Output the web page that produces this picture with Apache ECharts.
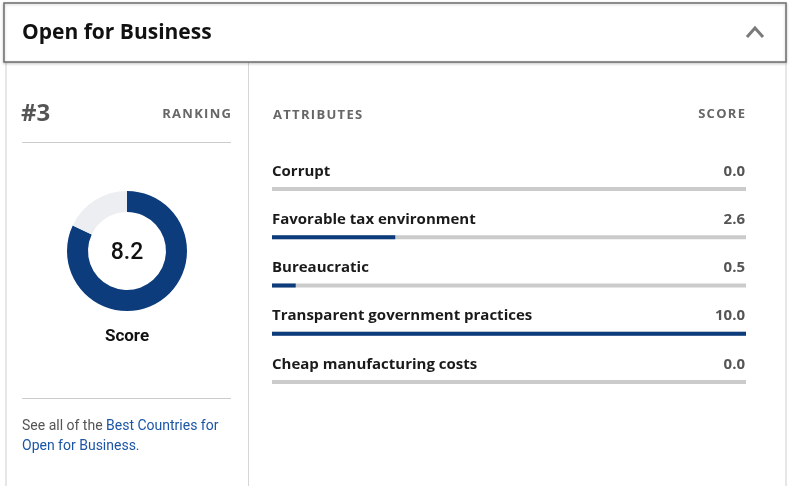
<!DOCTYPE html>
<html><head><meta charset="utf-8">
<script src="https://cdn.jsdelivr.net/npm/echarts@6/dist/echarts.min.js"></script>
<style>html,body{margin:0;padding:0;background:#fff}#c{width:789px;height:486px}</style>
</head><body><div id="c"></div>
<script>
const title = "Open for Business";
const rankLabel = "#3";
const overallScore = 8.2;
const scoreMax = 10;
const attributes = ["Corrupt","Favorable tax environment","Bureaucratic","Transparent government practices","Cheap manufacturing costs"];
const attrScores = [0.0, 2.6, 0.5, 10.0, 0.0];

const NAVY = "#0c3c7c";
const sp = s => s.split("").join("\u200A");
const chart = echarts.init(document.getElementById("c"), null, {renderer:"canvas"});
const headFont = "'Open Sans', 'Lato', sans-serif";
chart.setOption({
  backgroundColor: "#fff",
  animation: false,
  graphic: [
    {type:"rect", shape:{x:6,y:60,width:780,height:440}, style:{fill:"#fff", stroke:"#cfcfcf", lineWidth:1}},
    {type:"line", shape:{x1:248.5,y1:62,x2:248.5,y2:486}, style:{stroke:"#d6d6d6", lineWidth:1}},
    {type:"rect", shape:{x:4,y:3,width:782,height:59}, style:{fill:"#fff", stroke:"#6e6e6e", lineWidth:1.5, shadowBlur:3, shadowColor:"rgba(0,0,0,0.2)", shadowOffsetY:1}},
    {type:"text", x:22, y:33, style:{text:title, font:"bold 21px "+headFont, fill:"#111", verticalAlign:"middle"}},
    {type:"polyline", shape:{points:[[747,37],[755,28],[763,37]]}, style:{stroke:"#7a7a7a", lineWidth:3, fill:null}},
    {type:"text", x:21, y:114, style:{text:rankLabel, font:"bold 24px "+headFont, fill:"#555", verticalAlign:"middle"}},
    {type:"text", x:231, y:114, style:{text:sp("RANKING"), font:"bold 13px "+headFont, fill:"#666", align:"right", verticalAlign:"middle"}},
    {type:"line", shape:{x1:22,y1:142.5,x2:231,y2:142.5}, style:{stroke:"#cccccc", lineWidth:1}},
    {type:"text", x:127, y:253, style:{text:overallScore.toFixed(1), font:"500 23px Roboto, sans-serif", fill:"#111", align:"center", verticalAlign:"middle"}},
    {type:"text", x:127, y:337, style:{text:"Score", font:"bold 17px Roboto, sans-serif", fill:"#111", align:"center", verticalAlign:"middle"}},
    {type:"line", shape:{x1:22,y1:398.5,x2:231,y2:398.5}, style:{stroke:"#cccccc", lineWidth:1}},
    {type:"text", x:22, y:426, style:{text:"{g|See all of the }{b|Best Countries for}", verticalAlign:"middle", rich:{g:{font:"14px Roboto, sans-serif", fill:"#555"}, b:{font:"14px Roboto, sans-serif", fill:"#1b55a6"}}}},
    {type:"text", x:22, y:446, style:{text:"{b|Open for Business}{g|.}", verticalAlign:"middle", rich:{g:{font:"14px Roboto, sans-serif", fill:"#1b55a6"}, b:{font:"14px Roboto, sans-serif", fill:"#1b55a6"}}}},
    {type:"text", x:273, y:115, style:{text:sp("ATTRIBUTES"), font:"bold 13px "+headFont, fill:"#666", verticalAlign:"middle"}},
    {type:"text", x:745, y:114, style:{text:sp("SCORE"), font:"bold 13px "+headFont, fill:"#666", align:"right", verticalAlign:"middle"}}
  ],
  grid: {left:272, right:789-746, top:165, bottom:486-406, containLabel:false},
  xAxis: {type:"value", min:0, max:scoreMax, show:false},
  yAxis: [
    {type:"category", data:attributes, inverse:true, axisLine:{show:false}, axisTick:{show:false}, splitLine:{show:false},
     axisLabel:{inside:true, align:"left", verticalAlign:"bottom", margin:0, padding:[0,0,10,0], fontFamily:headFont, fontWeight:"bold", fontSize:15, color:"#1a1a1a"}},
    {type:"category", data:attributes, inverse:true, position:"right", axisLine:{show:false}, axisTick:{show:false}, splitLine:{show:false},
     axisLabel:{inside:true, align:"right", verticalAlign:"bottom", margin:1, padding:[0,0,10,0], fontFamily:headFont, fontWeight:"bold", fontSize:15, color:"#555",
       formatter:(v, i) => attrScores[i].toFixed(1)}}
  ],
  series: [
    {type:"bar", yAxisIndex:0, data:attrScores, barWidth:4, itemStyle:{color:NAVY}, showBackground:true, backgroundStyle:{color:"#cbcbcb"}, silent:true},
    {type:"pie", center:[127,251], radius:[39,60], startAngle:90, clockwise:true, silent:true, label:{show:false}, labelLine:{show:false},
     data:[{value:overallScore, itemStyle:{color:NAVY}},{value:scoreMax-overallScore, itemStyle:{color:"#eceef2"}}]}
  ]
});
</script></body></html>
